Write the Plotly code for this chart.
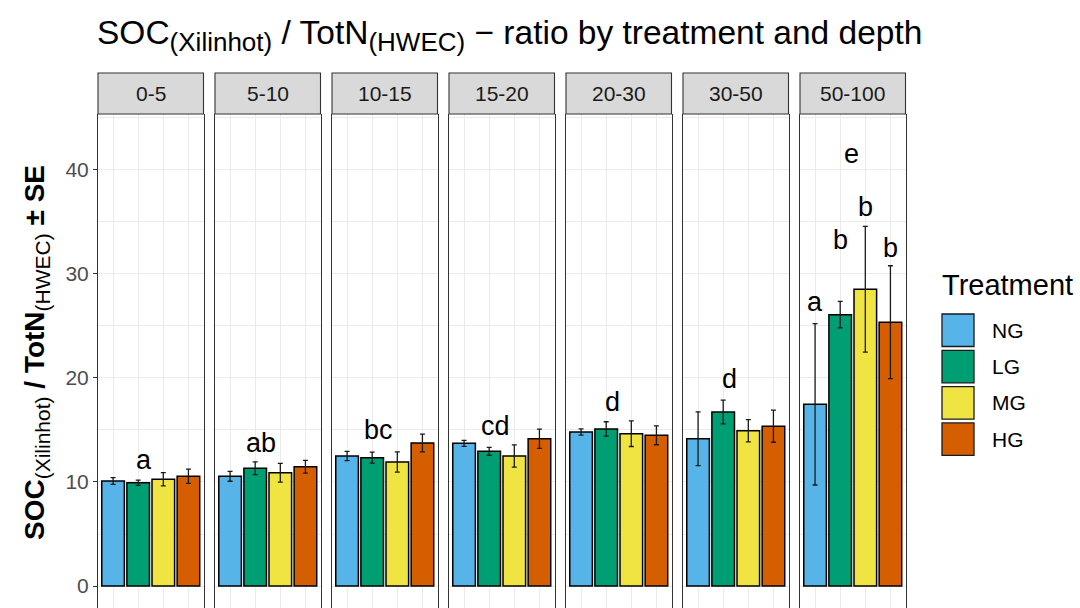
import plotly.graph_objects as go

# ---- data -------------------------------------------------------------
depths = ["0-5", "5-10", "10-15", "15-20", "20-30", "30-50", "50-100"]
treatments = ["NG", "LG", "MG", "HG"]
treatment_colors = ["#56B4E9", "#009E73", "#F0E442", "#D55E00"]

# mean SOC/TotN ratio, one row per depth, columns follow `treatments`
ratio_mean = [
    [10.10, 9.93, 10.26, 10.55],
    [10.55, 11.32, 10.89, 11.47],
    [12.50, 12.34, 11.92, 13.75],
    [13.72, 12.95, 12.50, 14.16],
    [14.81, 15.10, 14.64, 14.49],
    [14.16, 16.73, 14.93, 15.36],
    [17.47, 26.09, 28.53, 25.36],
]
# standard errors, same layout as ratio_mean
ratio_se = [
    [0.32, 0.25, 0.64, 0.68],
    [0.48, 0.61, 0.90, 0.61],
    [0.45, 0.53, 0.98, 0.85],
    [0.29, 0.38, 1.07, 0.93],
    [0.30, 0.69, 1.23, 0.91],
    [2.58, 1.15, 1.07, 1.54],
    [7.76, 1.28, 6.04, 5.43],
]

# significance letters between depths, and their heights
depth_letters = ["a", "ab", "bc", "cd", "d", "d", "e"]
depth_letter_y = [12.1, 13.75, 15.0, 15.4, 17.7, 19.9, 41.5]
# significance letters between treatments in the deepest layer
deep_letters = ["a", "b", "b", "b"]
deep_letter_y = [27.3, 33.3, 36.4, 32.5]

y_ticks = [0, 10, 20, 30, 40]
y_minor = [5, 15, 25, 35, 45]

# ---- geometry (pixels) -----------------------------------------------
W, H = 1080, 608
panel_left0, panel_step, panel_w = 98, 117, 105.5
strip_top, strip_bot = 73, 114
y_lo, y_hi = -2.115, 45.38

FONT = "Liberation Sans, Arial, sans-serif"


def fx(p):
    return p / W


def fy(p):
    return 1 - p / H


def sub(txt, size):
    return '<sub><span style="font-size:%dpx">%s</span></sub>' % (size, txt)


fig = go.Figure()
layout = {}
shapes = []
annotations = []

for i, depth in enumerate(depths):
    n = "" if i == 0 else str(i + 1)
    left = panel_left0 + panel_step * i
    right = left + panel_w

    fig.add_trace(go.Bar(
        x=treatments,
        y=ratio_mean[i],
        width=0.9,
        marker=dict(color=treatment_colors, line=dict(color="#000000", width=1.5)),
        error_y=dict(type="data", array=ratio_se[i], visible=True,
                     color="#1a1a1a", thickness=1.3, width=2.5),
        xaxis="x" + n, yaxis="y" + n,
        showlegend=False,
        name=depth,
    ))

    layout["xaxis" + n] = dict(
        domain=[fx(left), fx(right)], anchor="y" + n,
        type="category", categoryorder="array", categoryarray=treatments,
        range=[-0.6, 3.6],
        showgrid=True, gridcolor="#EBEBEB", gridwidth=1.2,
        showticklabels=False, ticks="", showline=False, zeroline=False,
        fixedrange=True,
    )
    layout["yaxis" + n] = dict(
        domain=[0, fy(strip_bot)], anchor="x" + n,
        range=[y_lo, y_hi], tickmode="array", tickvals=y_ticks,
        showgrid=True, gridcolor="#EBEBEB", gridwidth=1.2,
        minor=dict(tickmode="array", tickvals=y_minor, showgrid=True,
                   gridcolor="#EBEBEB", gridwidth=0.6, ticks=""),
        showline=True, mirror=True, linecolor="#333333", linewidth=1.1,
        zeroline=False,
        showticklabels=(i == 0),
        ticks="outside" if i == 0 else "", ticklen=4,
        tickcolor="#333333", tickwidth=1.1,
        tickfont=dict(family=FONT, size=21, color="#4D4D4D"),
        fixedrange=True,
    )

    # facet strip
    shapes.append(dict(type="rect", xref="paper", yref="paper",
                       x0=fx(left), x1=fx(right), y0=fy(strip_bot), y1=fy(strip_top),
                       fillcolor="#D9D9D9", line=dict(color="#333333", width=1.1),
                       layer="above"))
    annotations.append(dict(text=depth, xref="paper", yref="paper",
                            x=fx((left + right) / 2), y=fy((strip_top + strip_bot) / 2),
                            xanchor="center", yanchor="middle", showarrow=False,
                            font=dict(family=FONT, size=21, color="#1A1A1A")))

    # depth letter
    annotations.append(dict(text=depth_letters[i], xref="x" + n, yref="y" + n,
                            x=1.45 if i == len(depths) - 1 else 1.25,
                            y=depth_letter_y[i],
                            xanchor="center", yanchor="middle", showarrow=False,
                            font=dict(family=FONT, size=27, color="#000000")))

# treatment letters in the deepest layer
last = str(len(depths))
for j, t in enumerate(treatments):
    annotations.append(dict(text=deep_letters[j], xref="x" + last, yref="y" + last,
                            x=j, y=deep_letter_y[j],
                            xanchor="center", yanchor="middle", showarrow=False,
                            font=dict(family=FONT, size=27, color="#000000")))

# y-axis title
annotations.append(dict(
    text="<b>SOC</b>" + sub("(Xilinhot)", 21) + " <b>/ TotN</b>" + sub("(HWEC)", 21) + "<b> ± SE</b>",
    xref="paper", yref="paper", x=fx(36), y=fy(353),
    xanchor="center", yanchor="middle", textangle=-90, showarrow=False,
    font=dict(family=FONT, size=28, color="#000000")))

# legend
annotations.append(dict(text="Treatment", xref="paper", yref="paper",
                        x=fx(940), y=fy(285), xanchor="left", yanchor="middle",
                        showarrow=False, font=dict(family=FONT, size=29, color="#000000")))
key_top0, key_step, key_size = 314, 36.3, 32.5
for j, t in enumerate(treatments):
    top = key_top0 + key_step * j
    shapes.append(dict(type="rect", xref="paper", yref="paper",
                       x0=fx(942), x1=fx(974), y0=fy(top + key_size), y1=fy(top),
                       fillcolor=treatment_colors[j],
                       line=dict(color="#1a1a1a", width=1.3)))
    annotations.append(dict(text=t, xref="paper", yref="paper",
                            x=fx(990), y=fy(top + key_size / 2),
                            xanchor="left", yanchor="middle", showarrow=False,
                            font=dict(family=FONT, size=21, color="#000000")))

fig.update_layout(
    width=W, height=H,
    margin=dict(l=0, r=0, t=0, b=0, pad=0),
    paper_bgcolor="white", plot_bgcolor="white",
    font=dict(family=FONT, color="#000000"),
    title=dict(
        text="SOC" + sub("(Xilinhot)", 26) + " / TotN" + sub("(HWEC)", 26)
             + " − ratio by treatment and depth",
        x=fx(97), xanchor="left", y=fy(32), yanchor="middle",
        font=dict(family=FONT, size=33.5, color="#000000")),
    barmode="overlay",
    shapes=shapes,
    annotations=annotations,
    **layout,
)

fig.write_html("out.html")
